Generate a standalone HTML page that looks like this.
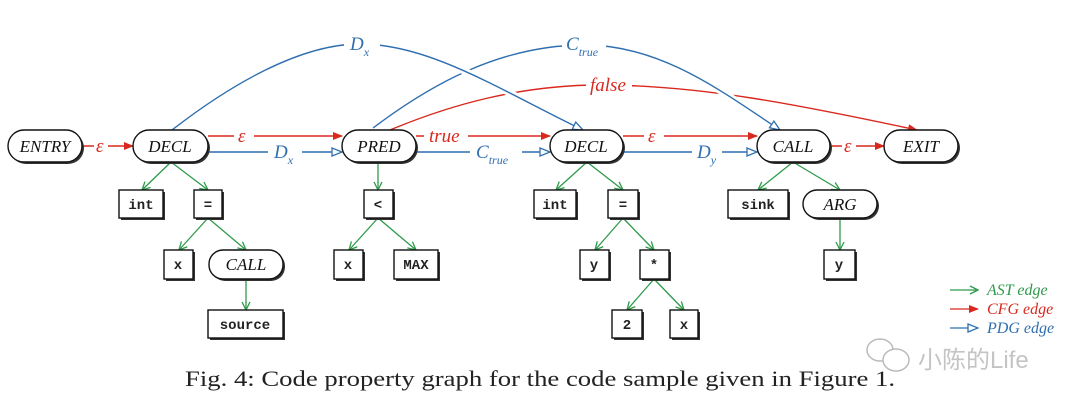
<!DOCTYPE html>
<html><head><meta charset="utf-8"><style>
html,body{margin:0;padding:0;background:#fff;}
svg{display:block}
.n{font-family:"Liberation Serif",serif;font-style:italic;font-size:17px;fill:#111}
.m{font-family:"Liberation Mono",monospace;font-size:14px;font-weight:bold;fill:#222}
.lb{font-family:"Liberation Serif",serif;font-style:italic;font-size:19px}
.lg{font-family:"Liberation Serif",serif;font-style:italic;font-size:16px}
.cap{font-family:"Liberation Serif",serif;font-size:22px;fill:#222}
.wm{font-family:"Liberation Sans","Noto Sans CJK SC",sans-serif;font-size:24px;fill:#c4c4c4}
</style></head><body>
<svg width="1080" height="406" viewBox="0 0 1080 406" xmlns="http://www.w3.org/2000/svg">
<defs>
<marker id="r" markerWidth="10" markerHeight="8" refX="9" refY="4" orient="auto" markerUnits="userSpaceOnUse"><path d="M0,0 L10,4 L0,8 z" fill="#d9281e"/></marker>
<marker id="b" markerWidth="12" markerHeight="10" refX="11" refY="5" orient="auto" markerUnits="userSpaceOnUse"><path d="M1,1 L11,5 L1,9 z" fill="#fff" stroke="#2f6fb0" stroke-width="1.3"/></marker>
<marker id="g" markerWidth="10" markerHeight="10" refX="9" refY="5" orient="auto" markerUnits="userSpaceOnUse"><path d="M1,1 L9,5 L1,9" fill="none" stroke="#2e9a4a" stroke-width="1.3"/></marker>
</defs>

<g fill="none" stroke-width="1.4">
<path d="M390,130 C450,105 520,85 600,85 C700,85 800,105 917,130" stroke="#d9281e" marker-end="url(#r)"/>
<path d="M373,128 C430,85 500,45 585,45 C660,45 720,90 780,130" stroke="#fff" stroke-width="7"/>
<path d="M373,128 C430,85 500,45 585,45 C660,45 720,90 780,130" stroke="#2f6fb0" marker-end="url(#b)"/>
<path d="M172,130 C230,85 300,44 360,44 C430,44 500,90 583,130" stroke="#fff" stroke-width="7"/>
<path d="M172,130 C230,85 300,44 360,44 C430,44 500,90 583,130" stroke="#2f6fb0" marker-end="url(#b)"/>
</g>
<rect x="344" y="30" width="36" height="26" fill="#fff"/>
<text x="350" y="50" class="lb" fill="#2f6fb0">D<tspan font-size="12" dy="6">x</tspan></text>
<rect x="562" y="30" width="44" height="28" fill="#fff"/>
<text x="566" y="50" class="lb" fill="#2f6fb0">C<tspan font-size="12" dy="6">true</tspan></text>
<rect x="586" y="74" width="46" height="22" fill="#fff"/>
<text x="590" y="91" class="lb" fill="#d9281e">false</text>

<g fill="none" stroke-width="1.4">
<line x1="82" y1="146" x2="133" y2="146" stroke="#d9281e" marker-end="url(#r)"/>
<line x1="208" y1="136" x2="342" y2="136" stroke="#d9281e" marker-end="url(#r)"/>
<line x1="208" y1="152" x2="342" y2="152" stroke="#2f6fb0" marker-end="url(#b)"/>
<line x1="416" y1="136" x2="550" y2="136" stroke="#d9281e" marker-end="url(#r)"/>
<line x1="416" y1="152" x2="550" y2="152" stroke="#2f6fb0" marker-end="url(#b)"/>
<line x1="623" y1="136" x2="757" y2="136" stroke="#d9281e" marker-end="url(#r)"/>
<line x1="623" y1="152" x2="757" y2="152" stroke="#2f6fb0" marker-end="url(#b)"/>
<line x1="830" y1="146" x2="884" y2="146" stroke="#d9281e" marker-end="url(#r)"/>
</g>
<g fill="#fff">
<rect x="94" y="136" width="14" height="20"/>
<rect x="234" y="126" width="20" height="20"/>
<rect x="268" y="142" width="34" height="24"/>
<rect x="424" y="126" width="44" height="20"/>
<rect x="470" y="142" width="52" height="26"/>
<rect x="644" y="126" width="20" height="20"/>
<rect x="692" y="142" width="30" height="26"/>
<rect x="842" y="136" width="14" height="20"/>
</g>
<text x="96" y="152" class="lb" fill="#d9281e">ε</text>
<text x="238" y="142" class="lb" fill="#d9281e">ε</text>
<text x="274" y="158" class="lb" fill="#2f6fb0">D<tspan font-size="12" dy="6">x</tspan></text>
<text x="429" y="142" class="lb" fill="#d9281e">true</text>
<text x="476" y="158" class="lb" fill="#2f6fb0">C<tspan font-size="12" dy="6">true</tspan></text>
<text x="648" y="142" class="lb" fill="#d9281e">ε</text>
<text x="697" y="158" class="lb" fill="#2f6fb0">D<tspan font-size="12" dy="6">y</tspan></text>
<text x="844" y="152" class="lb" fill="#d9281e">ε</text>

<g stroke="#2e9a4a" stroke-width="1.3" fill="none" marker-end="url(#g)">
<line x1="171" y1="162" x2="142" y2="190"/>
<line x1="171" y1="162" x2="208" y2="190"/>
<line x1="378" y1="162" x2="378" y2="190"/>
<line x1="208" y1="218" x2="179" y2="250"/>
<line x1="208" y1="218" x2="246" y2="250"/>
<line x1="246" y1="279" x2="246" y2="310"/>
<line x1="378" y1="218" x2="349" y2="250"/>
<line x1="378" y1="218" x2="416" y2="250"/>
<line x1="587" y1="162" x2="556" y2="190"/>
<line x1="587" y1="162" x2="623" y2="190"/>
<line x1="623" y1="218" x2="595" y2="250"/>
<line x1="623" y1="218" x2="654" y2="250"/>
<line x1="654" y1="279" x2="627" y2="310"/>
<line x1="654" y1="279" x2="684" y2="310"/>
<line x1="793" y1="162" x2="758" y2="190"/>
<line x1="793" y1="162" x2="840" y2="190"/>
<line x1="840" y1="218" x2="840" y2="250"/>
</g>

<g stroke="#111" stroke-width="1.4" fill="#fff">
<g fill="#333" stroke="none">
<rect x="10" y="132" width="74" height="32" rx="16"/><rect x="135" y="132" width="75" height="32" rx="16"/>
<rect x="344" y="132" width="74" height="32" rx="16"/><rect x="552" y="132" width="73" height="32" rx="16"/>
<rect x="759" y="132" width="73" height="32" rx="16"/><rect x="886" y="132" width="74" height="32" rx="16"/>
<rect x="211" y="252" width="74" height="29" rx="14"/><rect x="805" y="192" width="74" height="28" rx="14"/>
<rect x="121" y="192" width="44" height="28"/><rect x="196" y="192" width="28" height="28"/>
<rect x="366" y="192" width="29" height="28"/><rect x="536" y="192" width="42" height="28"/>
<rect x="610" y="192" width="30" height="28"/><rect x="730" y="192" width="60" height="28"/>
<rect x="166" y="252" width="29" height="29"/><rect x="336" y="252" width="29" height="29"/>
<rect x="396" y="252" width="44" height="29"/><rect x="582" y="252" width="29" height="29"/>
<rect x="642" y="252" width="29" height="29"/><rect x="826" y="252" width="31" height="29"/>
<rect x="210" y="312" width="75" height="28"/><rect x="614" y="312" width="30" height="28"/>
<rect x="672" y="312" width="28" height="28"/>
</g>
<rect x="8" y="130" width="74" height="32" rx="16"/><rect x="133" y="130" width="75" height="32" rx="16"/>
<rect x="342" y="130" width="74" height="32" rx="16"/><rect x="550" y="130" width="73" height="32" rx="16"/>
<rect x="757" y="130" width="73" height="32" rx="16"/><rect x="884" y="130" width="74" height="32" rx="16"/>
<rect x="209" y="250" width="74" height="29" rx="14"/><rect x="803" y="190" width="74" height="28" rx="14"/>
<rect x="119" y="190" width="44" height="28"/><rect x="194" y="190" width="28" height="28"/>
<rect x="364" y="190" width="29" height="28"/><rect x="534" y="190" width="42" height="28"/>
<rect x="608" y="190" width="30" height="28"/><rect x="728" y="190" width="60" height="28"/>
<rect x="164" y="250" width="29" height="29"/><rect x="334" y="250" width="29" height="29"/>
<rect x="394" y="250" width="44" height="29"/><rect x="580" y="250" width="29" height="29"/>
<rect x="640" y="250" width="29" height="29"/><rect x="824" y="250" width="31" height="29"/>
<rect x="208" y="310" width="75" height="28"/><rect x="612" y="310" width="30" height="28"/>
<rect x="670" y="310" width="28" height="28"/>
</g>
<g class="n" text-anchor="middle">
<text x="45" y="152">ENTRY</text><text x="170" y="152">DECL</text><text x="379" y="152">PRED</text>
<text x="586" y="152">DECL</text><text x="793" y="152">CALL</text><text x="921" y="152">EXIT</text>
<text x="246" y="270">CALL</text><text x="840" y="210">ARG</text>
</g>
<g class="m" text-anchor="middle">
<text x="141" y="209">int</text><text x="208" y="209">=</text><text x="378" y="209">&lt;</text>
<text x="555" y="209">int</text><text x="623" y="209">=</text><text x="758" y="209">sink</text>
<text x="178" y="269">x</text><text x="348" y="269">x</text><text x="416" y="269">MAX</text>
<text x="594" y="269">y</text><text x="654" y="269">*</text><text x="839" y="269">y</text>
<text x="245" y="329">source</text><text x="627" y="329">2</text><text x="684" y="329">x</text>
</g>

<g stroke-width="1.3" fill="none">
<line x1="950" y1="290" x2="978" y2="290" stroke="#2e9a4a" marker-end="url(#g)"/>
<line x1="950" y1="309" x2="978" y2="309" stroke="#d9281e" marker-end="url(#r)"/>
<line x1="950" y1="328" x2="978" y2="328" stroke="#2f6fb0" marker-end="url(#b)"/>
</g>
<text x="987" y="295" class="lg" fill="#2e9a4a">AST edge</text>
<text x="987" y="314" class="lg" fill="#d9281e">CFG edge</text>
<text x="987" y="333" class="lg" fill="#2f6fb0">PDG edge</text>

<g fill="none" stroke="#bbb" stroke-width="1.5">
<ellipse cx="880" cy="350" rx="13" ry="11"/>
<ellipse cx="896" cy="360" rx="13" ry="11" fill="#fff"/>
</g>
<text x="918" y="368" class="wm">小陈的Life</text>

<text x="185" y="386" class="cap" textLength="710" lengthAdjust="spacingAndGlyphs">Fig. 4: Code property graph for the code sample given in Figure 1.</text>
</svg>
</body></html>
